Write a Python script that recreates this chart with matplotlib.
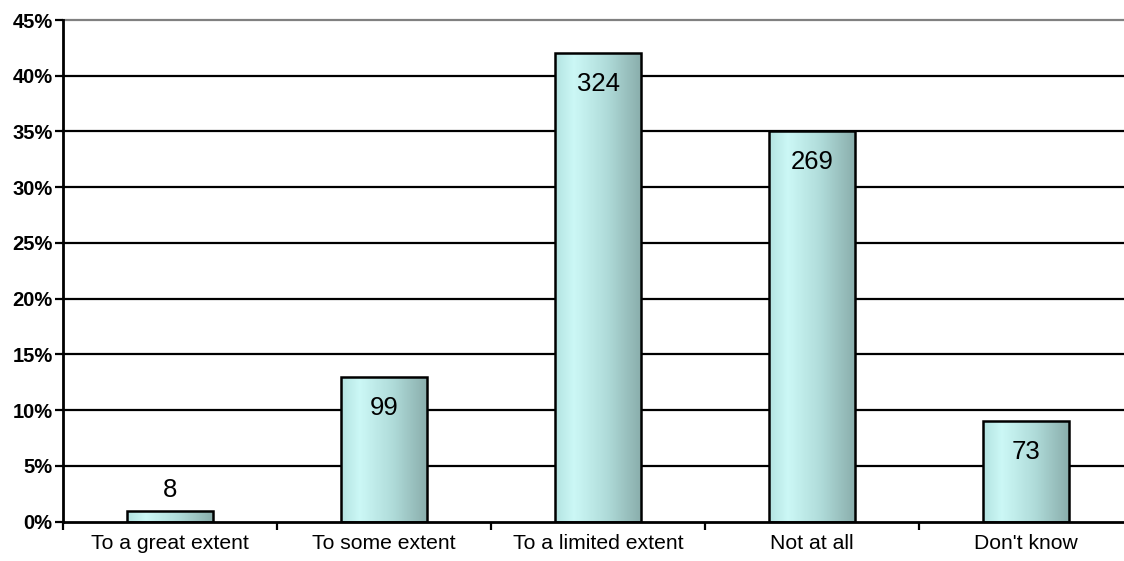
import numpy as np
import matplotlib
matplotlib.use("Agg")
import matplotlib.pyplot as plt
from matplotlib.colors import LinearSegmentedColormap

plt.rcParams['font.family'] = ['Liberation Sans', 'DejaVu Sans']

categories = ["To a great extent", "To some extent", "To a limited extent",
              "Not at all", "Don't know"]
counts = [8, 99, 324, 269, 73]
percents = [1, 13, 42, 35, 9]
y_ticks = [0, 5, 10, 15, 20, 25, 30, 35, 40, 45]

W, H = 1124, 561
fig = plt.figure(figsize=(W / 100, H / 100), dpi=100)
# plot area runs slightly past the right edge of the canvas
ax = fig.add_axes([63 / W, 39.3 / H, 1070 / W, 501.7 / H])

x = np.arange(len(categories))
bar_w = 0.40

ax.set_xlim(-0.5, len(categories) - 0.5)
ax.set_ylim(0, 45)

# horizontal gridlines
for t in y_ticks[1:]:
    ax.axhline(t, color='#808080' if t == 45 else 'black', lw=1.6, zorder=1,
               clip_on=False)

# horizontal gradient used inside each bar
grad_cmap = LinearSegmentedColormap.from_list(
    'bar', [(0.0, '#b3e3e1'), (0.22, '#ccf8f6'), (0.6, '#b0dcda'), (1.0, '#8aaeac')])
gradient = np.linspace(0, 1, 256).reshape(1, -1)

bars = ax.bar(x, percents, width=bar_w, facecolor='none', edgecolor='black',
              linewidth=1.8, zorder=3)
for b in bars:
    x0, y0 = b.get_x(), b.get_y()
    w, h = b.get_width(), b.get_height()
    im = ax.imshow(gradient, cmap=grad_cmap, aspect='auto',
                   extent=(x0, x0 + w, y0, y0 + h), zorder=2, interpolation='bilinear')
    im.set_clip_path(b)

ax.set_xlim(-0.5, len(categories) - 0.5)
ax.set_ylim(0, 45)

# count labels
for xi, p, c in zip(x, percents, counts):
    if p < 5:
        ax.annotate(str(c), (xi, p), xytext=(0, 21), textcoords='offset pixels',
                    ha='center', va='center', fontsize=18.5, zorder=4)
    else:
        ax.annotate(str(c), (xi, p), xytext=(0, -31), textcoords='offset pixels',
                    ha='center', va='center', fontsize=18.5, zorder=4)

# y axis
ax.set_yticks(y_ticks)
ax.set_yticklabels([f"{t}%" for t in y_ticks], fontweight='bold', fontsize=14.5)
ax.tick_params(axis='y', length=6, width=1.6, pad=1.5, direction='out')

# x axis: ticks at category boundaries, labels centred
ax.set_xticks(np.arange(len(categories) + 1) - 0.5)
ax.set_xticklabels([])
ax.set_xticks(x, minor=True)
ax.set_xticklabels(categories, minor=True, fontsize=15.2)
ax.tick_params(axis='x', which='major', length=6, width=1.6, direction='out')
ax.tick_params(axis='x', which='minor', length=0, pad=9)

for s in ['top', 'right']:
    ax.spines[s].set_visible(False)
ax.spines['left'].set_linewidth(2)
ax.spines['bottom'].set_linewidth(2)
ax.spines['left'].set_zorder(5)
ax.spines['bottom'].set_zorder(5)

fig.savefig('out.png', dpi=100)
